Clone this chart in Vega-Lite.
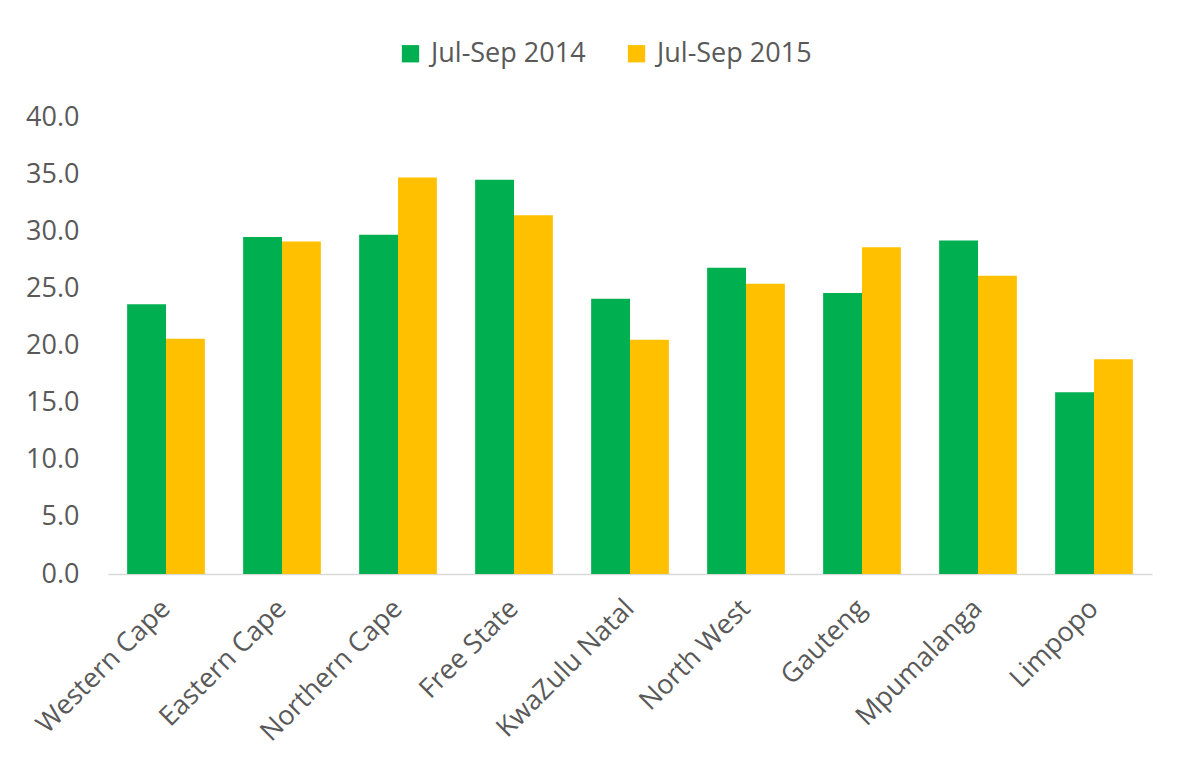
{
  "$schema": "https://vega.github.io/schema/vega-lite/v6.json",
  "width": 1044,
  "height": 457,
  "autosize": {"type": "none"},
  "padding": {"left": 108, "top": 117, "right": 38, "bottom": 201},
  "background": "white",
  "config": {
    "font": "Open Sans",
    "view": {"stroke": null}
  },
  "data": {
    "values": [
      {"province": "Western Cape", "period": "Jul-Sep 2014", "value": 23.6},
      {"province": "Western Cape", "period": "Jul-Sep 2015", "value": 20.6},
      {"province": "Eastern Cape", "period": "Jul-Sep 2014", "value": 29.5},
      {"province": "Eastern Cape", "period": "Jul-Sep 2015", "value": 29.1},
      {"province": "Northern Cape", "period": "Jul-Sep 2014", "value": 29.7},
      {"province": "Northern Cape", "period": "Jul-Sep 2015", "value": 34.7},
      {"province": "Free State", "period": "Jul-Sep 2014", "value": 34.5},
      {"province": "Free State", "period": "Jul-Sep 2015", "value": 31.4},
      {"province": "KwaZulu Natal", "period": "Jul-Sep 2014", "value": 24.1},
      {"province": "KwaZulu Natal", "period": "Jul-Sep 2015", "value": 20.5},
      {"province": "North West", "period": "Jul-Sep 2014", "value": 26.8},
      {"province": "North West", "period": "Jul-Sep 2015", "value": 25.4},
      {"province": "Gauteng", "period": "Jul-Sep 2014", "value": 24.6},
      {"province": "Gauteng", "period": "Jul-Sep 2015", "value": 28.6},
      {"province": "Mpumalanga", "period": "Jul-Sep 2014", "value": 29.2},
      {"province": "Mpumalanga", "period": "Jul-Sep 2015", "value": 26.1},
      {"province": "Limpopo", "period": "Jul-Sep 2014", "value": 15.9},
      {"province": "Limpopo", "period": "Jul-Sep 2015", "value": 18.8}
    ]
  },
  "mark": {"type": "bar"},
  "encoding": {
    "x": {
      "field": "province",
      "type": "nominal",
      "sort": null,
      "scale": {"paddingInner": 0.33, "paddingOuter": 0.165},
      "axis": {
        "title": null,
        "labelAngle": -45,
        "labelAlign": "right",
        "labelBaseline": "middle",
        "labelFontSize": 27,
        "labelColor": "#595959",
        "labelPadding": 30,
        "labelLimit": 0,
        "ticks": false,
        "domainColor": "#D9D9D9",
        "domainWidth": 1.5,
        "labelOverlap": false
      }
    },
    "xOffset": {"field": "period", "type": "nominal", "scale": {"paddingInner": 0, "paddingOuter": 0}},
    "y": {
      "field": "value",
      "type": "quantitative",
      "scale": {"domain": [0, 40], "nice": false},
      "axis": {
        "title": null,
        "values": [0, 5, 10, 15, 20, 25, 30, 35, 40],
        "format": ".1f",
        "grid": false,
        "domain": false,
        "ticks": false,
        "labelFontSize": 27,
        "labelColor": "#595959",
        "labelPadding": 29
      }
    },
    "color": {
      "field": "period",
      "type": "nominal",
      "scale": {"domain": ["Jul-Sep 2014", "Jul-Sep 2015"], "range": ["#00B050", "#FFC000"]},
      "legend": {
        "title": null,
        "orient": "none",
        "direction": "horizontal",
        "legendX": 289,
        "legendY": -77,
        "symbolType": "square",
        "symbolSize": 300,
        "symbolStrokeWidth": 0,
        "labelFontSize": 27,
        "labelColor": "#595959",
        "labelOffset": 7,
        "columnPadding": 37
      }
    }
  }
}
